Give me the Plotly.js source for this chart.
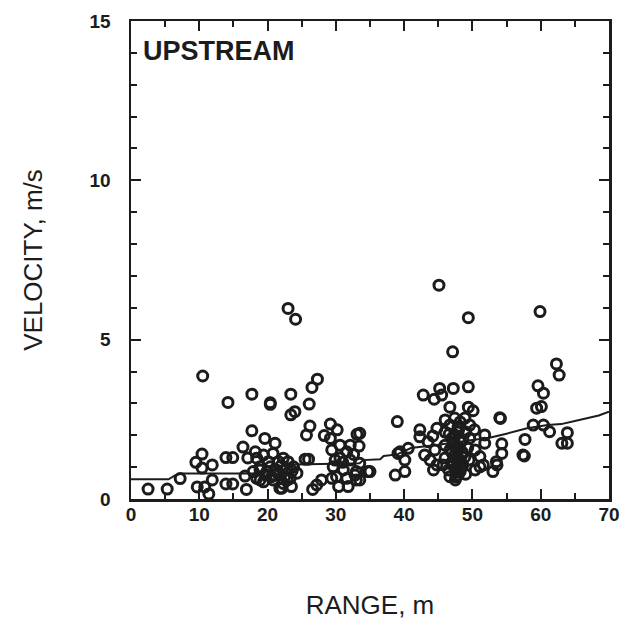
<!DOCTYPE html>
<html>
<head>
<meta charset="utf-8">
<script src="https://cdn.plot.ly/plotly-3.0.1.min.js"></script>
<style>
  html, body { margin: 0; padding: 0; background: #ffffff; }
  #chart { width: 620px; height: 625px; }
</style>
</head>
<body>
<div id="chart"></div>
<script>
// Measured velocities against range (upstream side), one circle per sample
const rangeM = [
  2.5, 5.3, 7.2, 10.5, 10.4, 9.5, 11.9, 10.4, 9.7, 10.8, 11.9, 11.4,
  13.9, 14.9, 13.9, 14.9, 14.2, 16.4, 17.1, 16.7, 16.9, 17.7, 17.7, 18.2,
  18.9, 19.6, 21.1, 20.4, 20.4, 23.0, 24.1, 23.4, 23.4, 24.0, 26.2, 25.7,
  26.1, 26.5, 27.3, 25.5, 26.0, 22.1, 23.5, 26.6, 27.2, 27.9, 29.4, 30.4,
  31.8, 33.0,
  18.4, 19.4, 20.8, 22.3, 23.0, 23.8, 24.3, 23.3, 22.3, 21.8, 20.8, 19.9,
  18.9, 18.4, 17.9, 20.4, 21.3, 21.6, 22.8, 20.1, 19.4, 21.0, 22.5, 18.9,
  21.5, 22.0, 20.6, 23.6, 19.8, 22.9,
  29.2, 30.2, 28.3, 29.2, 33.1, 33.4, 32.1, 29.4, 30.6, 31.6, 32.1, 33.5,
  34.7, 33.0, 31.1, 29.6, 30.1, 31.6, 33.5, 30.6, 29.9, 33.5,
  32.6, 31.0, 32.8,
  35.0, 38.7, 40.1, 39.0, 39.1, 40.6, 40.1, 39.4,
  45.1, 49.4, 47.1, 42.8, 44.4, 45.2, 45.5, 47.2, 49.4, 46.7, 49.4, 50.1,
  42.3, 42.3, 43.5, 44.8, 44.2, 51.8, 51.8, 51.1, 51.6, 50.4, 51.1, 44.3,
  46.7, 48.2, 43.0, 43.8, 44.5, 44.8,
  46.0, 46.7, 47.4, 48.2, 48.9, 49.6, 50.3, 46.0, 47.0, 47.9, 48.6, 49.6,
  46.0, 46.7, 47.7, 48.5, 49.3, 50.4, 46.0, 47.0, 47.9, 48.6, 49.5, 46.5,
  47.6, 49.0, 45.7, 47.6, 48.2, 47.4, 48.9, 47.9, 46.6, 49.0,
  47.3, 47.8, 47.2, 48.0, 47.5, 48.3, 47.0, 47.9,
  47.6, 48.1, 47.3, 47.7, 48.4, 47.1, 48.0, 47.5,
  54.0, 54.1, 54.3, 54.3, 53.5, 53.6, 53.0, 57.7, 57.4, 57.6, 59.9, 62.3,
  62.7, 59.6, 60.4, 59.4, 60.1, 58.9, 60.4, 61.3, 63.9, 63.1, 63.9
];
const velocity = [
  0.31, 0.31, 0.64, 3.86, 1.41, 1.15, 1.07, 0.97, 0.38, 0.38, 0.60, 0.16,
  1.30, 1.30, 0.47, 0.47, 3.03, 1.63, 1.29, 0.72, 0.30, 3.29, 2.14, 1.48,
  0.60, 1.90, 1.75, 3.02, 2.97, 5.98, 5.64, 3.29, 2.64, 2.74, 2.29, 2.01,
  2.98, 3.50, 3.76, 1.25, 1.25, 0.34, 0.39, 0.30, 0.44, 0.60, 0.65, 0.39,
  0.39, 0.60,
  1.28, 1.38, 1.43, 1.28, 1.17, 1.01, 0.81, 0.65, 0.49, 0.34, 0.60, 0.86,
  1.01, 0.65, 0.86, 1.01, 0.91, 1.17, 0.96, 1.17, 0.54, 0.75, 0.70, 0.91,
  0.80, 1.05, 0.70, 0.88, 0.75, 0.60,
  2.35, 2.17, 1.99, 1.90, 2.03, 1.66, 1.69, 1.54, 1.69, 1.48, 1.22, 1.12,
  0.86, 0.86, 0.91, 1.01, 0.70, 0.65, 0.60, 1.29, 1.22, 2.06,
  1.40, 1.15, 0.75,
  0.86, 0.75, 0.86, 2.43, 1.43, 1.59, 1.22, 1.48,
  6.71, 5.69, 4.62, 3.26, 3.13, 3.47, 3.26, 3.47, 3.52, 2.88, 2.88, 2.77,
  2.17, 1.95, 1.80, 2.22, 1.98, 2.01, 1.75, 1.33, 1.07, 0.91, 1.01, 0.91,
  0.70, 0.86, 1.38, 1.22, 1.54, 1.07,
  2.48, 2.32, 2.54, 2.42, 2.54, 2.32, 2.17, 2.10, 1.91, 2.10, 1.85, 1.91,
  1.69, 1.54, 1.66, 1.47, 1.60, 1.54, 1.29, 1.16, 1.29, 1.07, 1.22, 0.91,
  0.97, 0.78, 1.07, 0.69, 1.79, 1.38, 1.32, 2.26, 2.04, 2.10,
  1.75, 1.55, 1.05, 1.15, 2.00, 0.95, 1.45, 0.75,
  1.25, 1.62, 1.90, 0.85, 1.35, 1.70, 2.20, 0.60,
  2.55, 2.53, 1.73, 1.43, 1.17, 1.07, 0.86, 1.87, 1.38, 1.35, 5.88, 4.24,
  3.89, 3.55, 3.32, 2.85, 2.90, 2.32, 2.32, 2.11, 2.08, 1.75, 1.75
];

// Smoothed trend of velocity with range
const trendRange = [0, 5.5, 6.5, 7.5, 19.5, 20.5, 24, 29, 33.5, 34, 36.5, 37,
  39, 41, 45, 50, 52.5, 55, 58, 61, 63, 65, 67, 68.5, 70];
const trendVelocity = [0.62, 0.62, 0.75, 0.8, 0.8, 1.0, 1.08, 1.1, 1.12, 1.22,
  1.25, 1.35, 1.4, 1.6, 1.7, 1.85, 1.92, 2.05, 2.22, 2.32, 2.35, 2.45, 2.55,
  2.62, 2.74];

const xTickVals = [0, 10, 20, 30, 40, 50, 60, 70];
const yTickVals = [0, 5, 10, 15];
const panelLabel = 'UPSTREAM';
const xTitle = 'RANGE, m';
const yTitle = 'VELOCITY, m/s';

const ink = '#1c1c1c';
const labelFont = { family: 'Liberation Sans, Arial, sans-serif', size: 19, color: ink, weight: 'bold' };

const traces = [
  {
    type: 'scatter',
    mode: 'markers',
    x: rangeM,
    y: velocity,
    marker: {
      symbol: 'circle-open',
      size: 10,
      color: ink,
      line: { width: 3, color: ink }
    },
    hoverinfo: 'x+y',
    showlegend: false
  },
  {
    type: 'scatter',
    mode: 'lines',
    x: trendRange,
    y: trendVelocity,
    line: { color: ink, width: 2 },
    hoverinfo: 'skip',
    showlegend: false
  }
];

const layout = {
  width: 620,
  height: 625,
  margin: { l: 131, r: 11, t: 21, b: 126, pad: 0 },
  paper_bgcolor: '#ffffff',
  plot_bgcolor: '#ffffff',
  showlegend: false,
  xaxis: {
    range: [0, 70],
    tickvals: xTickVals,
    ticks: 'inside',
    ticklen: 10,
    tickwidth: 2,
    tickcolor: ink,
    minor: { dtick: 5, ticks: 'inside', ticklen: 6, tickwidth: 2, tickcolor: ink },
    showline: true,
    linewidth: 2.5,
    linecolor: ink,
    mirror: 'allticks',
    showgrid: false,
    zeroline: false,
    tickfont: labelFont,
    ticklabelstandoff: -3,
    automargin: false,
    title: {
      text: xTitle,
      font: { family: 'Liberation Sans, Arial, sans-serif', size: 26, color: ink },
      standoff: 72
    }
  },
  yaxis: {
    range: [0, 15],
    tickvals: yTickVals,
    ticks: 'inside',
    ticklen: 10,
    tickwidth: 2,
    tickcolor: ink,
    minor: { dtick: 1, ticks: 'inside', ticklen: 6, tickwidth: 2, tickcolor: ink },
    showline: true,
    linewidth: 2.5,
    linecolor: ink,
    mirror: 'allticks',
    showgrid: false,
    zeroline: false,
    tickfont: labelFont,
    ticklabelstandoff: 14,
    automargin: false,
    title: {
      text: yTitle,
      font: { family: 'Liberation Sans, Arial, sans-serif', size: 26, color: ink },
      standoff: 40
    }
  },
  annotations: [
    {
      text: panelLabel,
      xref: 'paper', yref: 'paper',
      x: 0, y: 1,
      xanchor: 'left', yanchor: 'top',
      xshift: 10, yshift: -13,
      showarrow: false,
      font: { family: 'Liberation Sans, Arial, sans-serif', size: 27, color: ink, weight: 'bold' }
    }
  ]
};

Plotly.newPlot('chart', traces, layout, { displayModeBar: false, staticPlot: true });
</script>
</body>
</html>
